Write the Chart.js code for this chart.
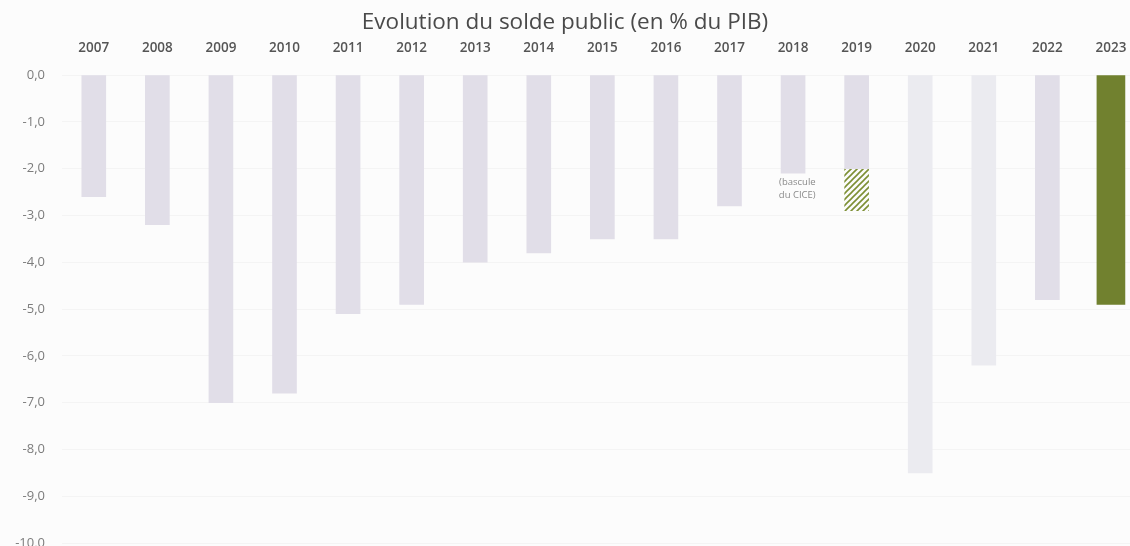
<!DOCTYPE html>
<html>
<head>
<meta charset="utf-8">
<script src="https://cdn.jsdelivr.net/npm/chart.js@4.4.0/dist/chart.umd.min.js"></script>
<style>
  html, body { margin: 0; padding: 0; background: #fcfcfc; }
  #wrap { width: 1130px; height: 546px; }
</style>
</head>
<body>
<div id="wrap"><canvas id="solde"></canvas></div>
<script>
// annees et solde public (% du PIB)
var years = [2007, 2008, 2009, 2010, 2011, 2012, 2013, 2014, 2015, 2016, 2017, 2018, 2019, 2020, 2021, 2022, 2023];
var solde = [-2.6, -3.2, -7.0, -6.8, -5.1, -4.9, -4.0, -3.8, -3.5, -3.5, -2.8, -2.1, -2.0, -8.5, -6.2, -4.8, null];
// effet de la bascule du CICE en 2019
var bascule = [null, null, null, null, null, null, null, null, null, null, null, null, -0.9, null, null, null, null];
// derniere annee mise en avant
var solde2023 = [null, null, null, null, null, null, null, null, null, null, null, null, null, null, null, null, -4.9];
var yTicks = [0, -1, -2, -3, -4, -5, -6, -7, -8, -9, -10];

function pts(arr) {
    return years.map(function (y, i) { return { x: y, y: arr[i] }; });
}

// hachures vertes pour 2019
function hatch() {
    var c = document.createElement('canvas');
    c.width = 6; c.height = 6;
    var g = c.getContext('2d');
    g.fillStyle = '#fcfcfc';
    g.fillRect(0, 0, 6, 6);
    g.strokeStyle = '#7d8f34';
    g.lineWidth = 1.6;
    g.beginPath();
    g.moveTo(0, 6); g.lineTo(6, 0);
    g.moveTo(-3, 3); g.lineTo(3, -3);
    g.moveTo(3, 9); g.lineTo(9, 3);
    g.stroke();
    return g.createPattern(c, 'repeat');
}

var lightColors = years.map(function (y) {
    if (y == 2020 || y == 2021) return '#ebebf0';
    return '#e1dee8';
});

var cice = {
    id: 'cice',
    afterDatasetsDraw: function (chart) {
        var x = chart.scales.x, yS = chart.scales.y, c = chart.ctx;
        var px = x.getPixelForValue(2019) - 41;
        c.save();
        c.font = '9.5px "Open Sans", sans-serif';
        c.fillStyle = '#8a8a8a';
        c.textAlign = 'right';
        c.textBaseline = 'middle';
        c.fillText('(bascule', px, yS.getPixelForValue(-2.3));
        c.fillText('du CICE)', px, yS.getPixelForValue(-2.58));
        c.restore();
    }
};

var ctx = document.getElementById('solde');
var chartGraph = new Chart(ctx, {
    type: 'bar',
    data: {
        datasets: [{
                label: 'Solde public',
                data: pts(solde),
                backgroundColor: lightColors,
                barThickness: 24,
                stack: 's'
            },
            {
                label: 'Bascule du CICE',
                data: pts(bascule),
                backgroundColor: hatch(),
                barThickness: 24,
                stack: 's'
            },
            {
                label: '2023',
                data: pts(solde2023),
                backgroundColor: '#71812f',
                barThickness: 28,
                stack: 's'
            }
        ]
    },
    options: {
        responsive: true,
        maintainAspectRatio: false,
        animation: false,
        layout: { padding: { top: 0, left: 0, right: 0, bottom: 3 } },
        plugins: {
            legend: { display: false },
            tooltip: { enabled: false },
            title: {
                display: true,
                text: 'Evolution du solde public (en % du PIB)',
                color: '#4a4a4a',
                font: { family: 'Open Sans', size: 22.5, weight: 'normal' },
                padding: { top: 9, bottom: 0 }
            }
        },
        scales: {
            x: {
                type: 'linear',
                position: 'top',
                min: 2006.5,
                max: 2023.3,
                offset: false,
                stacked: true,
                grid: { display: false, drawTicks: false },
                border: { display: false },
                afterBuildTicks: function (axis) {
                    axis.ticks = years.map(function (v) { return { value: v }; });
                },
                afterFit: function (axis) {
                    axis.height = 39;
                    axis.paddingLeft = 0;
                    axis.paddingRight = 0;
                },
                ticks: {
                    padding: 19,
                    maxRotation: 0,
                    autoSkip: false,
                    color: '#555555',
                    font: { family: 'Open Sans', size: 13.5, weight: '600' },
                    callback: function (v) { return String(v); }
                }
            },
            y: {
                min: -10,
                max: 0,
                stacked: true,
                grid: { color: '#f4f4f4', drawTicks: false },
                border: { display: false },
                afterBuildTicks: function (axis) {
                    axis.ticks = yTicks.map(function (v) { return { value: v }; });
                },
                afterFit: function (axis) {
                    axis.width = 62;
                    axis.paddingTop = 0;
                    axis.paddingBottom = 0;
                },
                ticks: {
                    padding: 17,
                    color: '#7c7c7c',
                    font: { family: 'Open Sans', size: 13 },
                    callback: function (v) { return v.toFixed(1).replace('.', ','); }
                }
            }
        }
    },
    plugins: [cice]
});
</script>
</body>
</html>
